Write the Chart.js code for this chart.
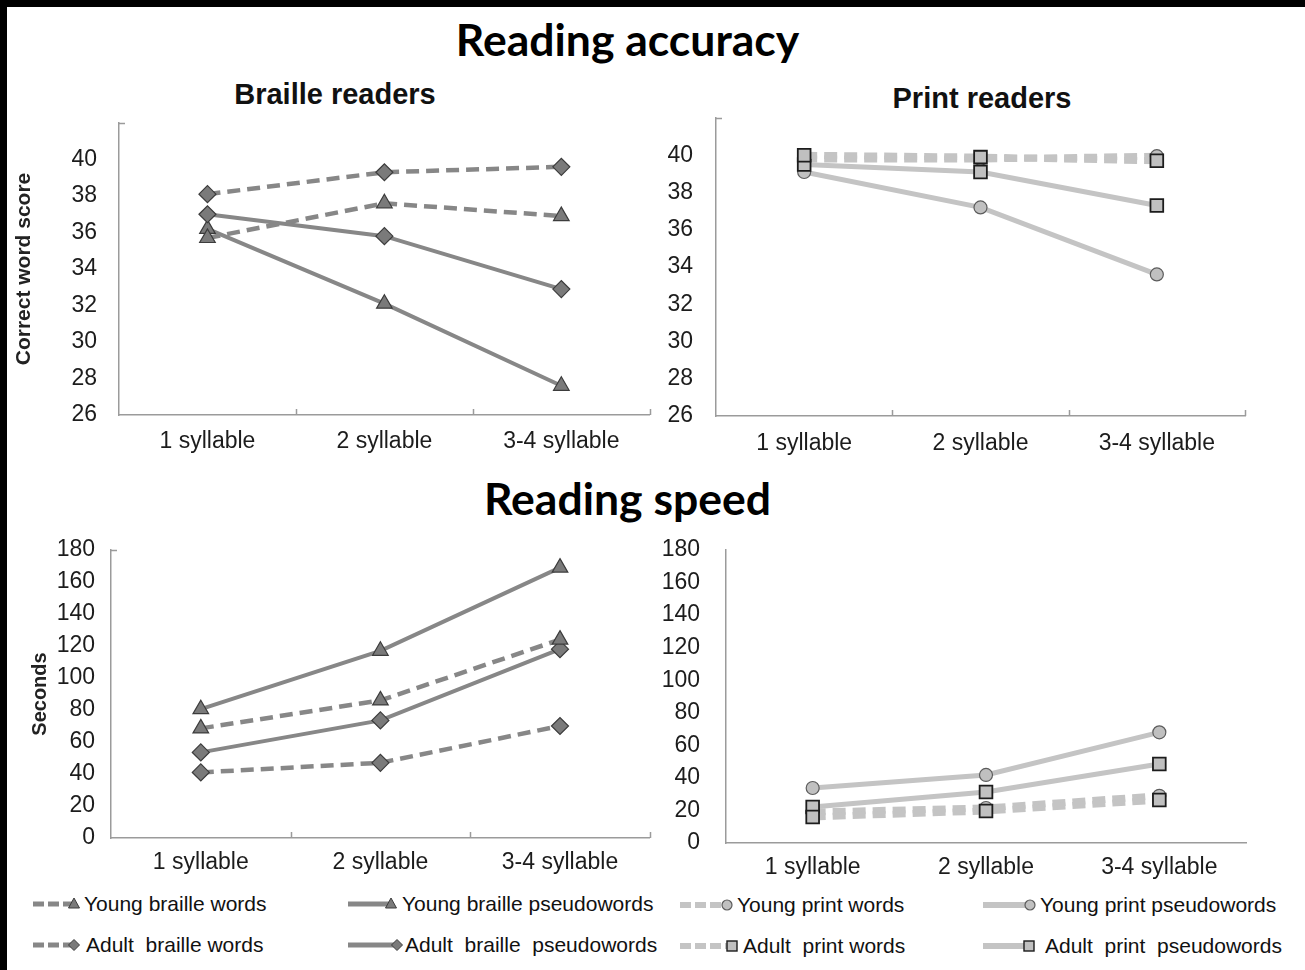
<!DOCTYPE html>
<html><head><meta charset="utf-8">
<script src="https://cdn.jsdelivr.net/npm/chart.js@4.4.1/dist/chart.umd.min.js"></script>
<style>
body{margin:0;background:#fff;}
#page{position:relative;width:1305px;height:970px;overflow:hidden;background:#fff;font-family:"Liberation Sans",Arial,sans-serif;}
.bar{position:absolute;background:#000}
.title{position:absolute;font-family:Lato,"Open Sans",sans-serif;font-weight:700;color:#000;text-align:center;white-space:nowrap;line-height:1}
.sub{position:absolute;font-family:"Liberation Sans",Arial,sans-serif;font-weight:700;color:#111;white-space:nowrap;text-align:center;line-height:1}
canvas{position:absolute}
.lg{position:absolute;height:24px;font-size:21px;color:#111;white-space:pre;line-height:24px}
.lg svg{position:absolute;top:0}
.lg span{position:absolute;top:0}
</style></head>
<body>
<div id="page">
  <div class="bar" style="left:0;top:0;width:1305px;height:7px"></div>
  <div class="bar" style="left:0;top:0;width:7px;height:970px"></div>
  <div class="title" style="left:0;width:1255px;top:17px;font-size:44.5px">Reading accuracy</div>
  <div class="title" style="left:0;width:1255px;top:476px;font-size:44.5px">Reading speed</div>
  <div class="sub" style="left:135px;width:400px;top:80px;font-size:29px">Braille readers</div>
  <div class="sub" style="left:782px;width:400px;top:84px;font-size:29px">Print readers</div>
  <canvas id="cTL" width="650" height="360" style="left:10px;top:110px;width:650px;height:360px"></canvas>
  <canvas id="cTR" width="645" height="365" style="left:660px;top:105px;width:645px;height:365px"></canvas>
  <canvas id="cBL" width="650" height="360" style="left:10px;top:530px;width:650px;height:360px"></canvas>
  <canvas id="cBR" width="645" height="360" style="left:660px;top:530px;width:645px;height:360px"></canvas>
  <div id="legend"></div>
</div>
<script>
// ---------- DATA ----------
const categories = ['1 syllable', '2 syllable', '3-4 syllable'];
const accuracyTicks = [26, 28, 30, 32, 34, 36, 38, 40];
const speedTicks = [0, 20, 40, 60, 80, 100, 120, 140, 160, 180];

// Reading accuracy (correct word score) - braille readers
const accYoungBrailleWords  = [35.7, 37.6, 36.9];
const accYoungBraillePseudo = [36.2, 32.1, 27.6];
const accAdultBrailleWords  = [38.1, 39.3, 39.6];
const accAdultBraillePseudo = [37.0, 35.8, 32.9];
// Reading accuracy - print readers
const accYoungPrintWords  = [39.8, 39.8, 39.95];
const accYoungPrintPseudo = [39.1, 37.2, 33.6];
const accAdultPrintWords  = [40.0, 39.9, 39.7];
const accAdultPrintPseudo = [39.5, 39.1, 37.3];
// Reading speed (seconds) - braille readers
const spdYoungBrailleWords  = [68.5, 86, 124];
const spdYoungBraillePseudo = [80.5, 117, 169];
const spdAdultBrailleWords  = [41, 47, 70];
const spdAdultBraillePseudo = [53.5, 73.5, 118];
// Reading speed - print readers
const spdYoungPrintWords  = [19, 21.5, 29];
const spdYoungPrintPseudo = [33.8, 41.8, 68];
const spdAdultPrintWords  = [16, 19.7, 26.4];
const spdAdultPrintPseudo = [22.1, 31.3, 48.5];

const nameYBW = 'Young braille words';
const nameYBP = 'Young braille pseudowords';
const nameABW = 'Adult  braille words';
const nameABP = 'Adult  braille  pseudowords';
const nameYPW = 'Young print words';
const nameYPP = 'Young print pseudowords';
const nameAPW = 'Adult  print words';
const nameAPP = 'Adult  print  pseudowords';

// ---------- STYLES ----------
const BR_LINE = '#878787', BR_FILL = '#7a7a7a', BR_EDGE = '#3c3c3c';
const PR_LINE = '#c4c4c4', PR_FILL = '#c0c0c0', PR_EDGE_SQ = '#1c1c1c', PR_EDGE_CI = '#5c5c5c';
const TXT = '#1c1c1c', AXIS = '#9b9b9b';

function style(kind) {
  const s = {};
  if (kind.print) {
    s.borderColor = PR_LINE;
    s.borderWidth = kind.dashed ? 7 : 5;
    s.borderDash = kind.dashed ? [13, 7] : [];
    s.pointBackgroundColor = PR_FILL;
    s.pointBorderColor = kind.shape === 'rect' ? PR_EDGE_SQ : PR_EDGE_CI;
    s.pointBorderWidth = kind.shape === 'rect' ? 1.8 : 1.2;
    s.pointRadius = kind.shape === 'rect' ? 9 : 6.5;
  } else {
    s.borderColor = BR_LINE;
    s.borderWidth = kind.dashed ? 4.5 : 4;
    s.borderDash = kind.dashed ? [13, 7] : [];
    s.pointBackgroundColor = BR_FILL;
    s.pointBorderColor = BR_EDGE;
    s.pointBorderWidth = 1.2;
    s.pointRadius = kind.shape === 'triangle' ? 9 : 8.5;
  }
  s.pointStyle = kind.shape;
  s.pointHoverRadius = s.pointRadius;
  s.tension = 0; s.fill = false; s.clip = false;
  return s;
}
const K = {
  YBW: {print:false, dashed:true,  shape:'triangle'},
  YBP: {print:false, dashed:false, shape:'triangle'},
  ABW: {print:false, dashed:true,  shape:'rectRot'},
  ABP: {print:false, dashed:false, shape:'rectRot'},
  YPW: {print:true,  dashed:true,  shape:'circle'},
  YPP: {print:true,  dashed:false, shape:'circle'},
  APW: {print:true,  dashed:true,  shape:'rect'},
  APP: {print:true,  dashed:false, shape:'rect'}
};
function ds(label, data, kind) { return Object.assign({label, data}, style(kind)); }

// inward category tick marks on x axis
const innerTicks = {
  id: 'innerTicks',
  afterDraw(chart, args, opts) {
    if (!opts || !opts.show) return;
    const x = chart.scales.x, ctx = chart.ctx, n = chart.data.labels.length;
    ctx.save(); ctx.strokeStyle = AXIS; ctx.lineWidth = 1.5;
    for (let i = 0; i < n; i++) {
      const px = i < n - 1 ? (x.getPixelForValue(i) + x.getPixelForValue(i + 1)) / 2 : x.right;
      ctx.beginPath(); ctx.moveTo(Math.round(px) + 0.5, x.top); ctx.lineTo(Math.round(px) + 0.5, x.top - 6); ctx.stroke();
    }
    const y = chart.scales.y;
    ctx.beginPath(); ctx.moveTo(y.right, y.top + 0.5); ctx.lineTo(y.right + 6, y.top + 0.5); ctx.stroke();
    ctx.restore();
  }
};

function makeChart(id, datasets, cfg) {
  const tickFont = {family: '"Liberation Sans", Arial, sans-serif', size: 23};
  return new Chart(document.getElementById(id), {
    type: 'line',
    data: {labels: categories, datasets},
    options: {
      responsive: false, animation: false, devicePixelRatio: 1,
      layout: {padding: {left: 0, top: cfg.padTop, right: cfg.padRight, bottom: 0}},
      plugins: {legend: {display: false}, tooltip: {enabled: false}, innerTicks: {show: cfg.innerTicks}},
      scales: {
        x: {
          type: 'category', offset: true,
          grid: {display: false, drawTicks: false},
          border: {display: true, color: AXIS, width: 1.5},
          ticks: {font: tickFont, color: TXT, padding: cfg.xPad, maxRotation: 0, autoSkip: false},
          afterFit(s) { s.height = cfg.xHeight; s.paddingLeft = 0; s.paddingRight = 0; }
        },
        y: {
          min: cfg.ticks[0], max: cfg.max,
          grid: {display: false, drawTicks: false},
          border: {display: true, color: AXIS, width: 1.5},
          ticks: {font: tickFont, color: TXT, padding: cfg.yPad, stepSize: cfg.ticks[1] - cfg.ticks[0],
                  callback: v => cfg.ticks.includes(v) ? String(v) : ''},
          title: cfg.yTitle ? {display: true, text: cfg.yTitle, color: '#222',
                  font: {family: '"Liberation Sans", Arial, sans-serif', size: cfg.yTitleSize, weight: 'bold'},
                  padding: {top: cfg.yTitlePad, bottom: 0}} : {display: false},
          afterFit(s) { s.width = cfg.yWidth; s.paddingTop = 0; s.paddingBottom = 0; }
        }
      }
    },
    plugins: [innerTicks]
  });
}

// Top-left: accuracy, braille
makeChart('cTL', [
  ds(nameABW, accAdultBrailleWords, K.ABW),
  ds(nameYBW, accYoungBrailleWords, K.YBW),
  ds(nameABP, accAdultBraillePseudo, K.ABP),
  ds(nameYBP, accYoungBraillePseudo, K.YBP)
], {ticks: accuracyTicks, max: 42, padTop: 13, padRight: 8, xHeight: 55, yWidth: 109, xPad: 13, yPad: 22,
    yTitle: 'Correct word score', yTitleSize: 21, yTitlePad: 2, innerTicks: true});

// Top-right: accuracy, print
makeChart('cTR', [
  ds(nameAPW, accAdultPrintWords, K.APW),
  ds(nameAPP, accAdultPrintPseudo, K.APP),
  ds(nameYPW, accYoungPrintWords, K.YPW),
  ds(nameYPP, accYoungPrintPseudo, K.YPP)
], {ticks: accuracyTicks, max: 42, padTop: 13, padRight: 60, xHeight: 54, yWidth: 56, xPad: 14, yPad: 23,
    yTitle: null, innerTicks: true});

// Bottom-left: speed, braille
makeChart('cBL', [
  ds(nameYBP, spdYoungBraillePseudo, K.YBP),
  ds(nameYBW, spdYoungBrailleWords, K.YBW),
  ds(nameABP, spdAdultBraillePseudo, K.ABP),
  ds(nameABW, spdAdultBrailleWords, K.ABW)
], {ticks: speedTicks, max: 180, padTop: 20, padRight: 9, xHeight: 52, yWidth: 101, xPad: 11, yPad: 16,
    yTitle: 'Seconds', yTitleSize: 20, yTitlePad: 18, innerTicks: true});

// Bottom-right: speed, print
makeChart('cBR', [
  ds(nameAPW, spdAdultPrintWords, K.APW),
  ds(nameAPP, spdAdultPrintPseudo, K.APP),
  ds(nameYPW, spdYoungPrintWords, K.YPW),
  ds(nameYPP, spdYoungPrintPseudo, K.YPP)
], {ticks: speedTicks, max: 180, padTop: 20, padRight: 59, xHeight: 47, yWidth: 66, xPad: 11, yPad: 26,
    yTitle: null, innerTicks: false});

// ---------- LEGEND ----------
const legendItems = [
  {name: nameYBW, kind: K.YBW, left: 33, top: 892, w: 46, text: 84},
  {name: nameABW, kind: K.ABW, left: 33, top: 933, w: 46, text: 86},
  {name: nameYBP, kind: K.YBP, left: 348, top: 892, w: 48, text: 402},
  {name: nameABP, kind: K.ABP, left: 348, top: 933, w: 54, text: 405},
  {name: nameYPW, kind: K.YPW, left: 680, top: 893, w: 52, text: 737},
  {name: nameAPW, kind: K.APW, left: 680, top: 934, w: 57, text: 743},
  {name: nameYPP, kind: K.YPP, left: 983, top: 893, w: 52, text: 1040},
  {name: nameAPP, kind: K.APP, left: 983, top: 934, w: 51, text: 1045}
];
const lg = document.getElementById('legend');
legendItems.forEach(it => {
  const st = style(it.kind);
  const d = document.createElement('div');
  d.className = 'lg';
  d.style.left = it.left + 'px'; d.style.top = it.top + 'px'; d.style.width = (it.text - it.left + 300) + 'px';
  const mx = it.w - 5, my = 12;
  const lw = it.kind.print ? 6 : 5;
  let line;
  if (it.kind.dashed) line = `<line x1="0" y1="${my}" x2="${mx}" y2="${my}" stroke="${st.borderColor}" stroke-width="${lw}" stroke-dasharray="11 4"/>`;
  else line = `<line x1="0" y1="${my}" x2="${mx}" y2="${my}" stroke="${st.borderColor}" stroke-width="${lw}"/>`;
  let mk = '';
  const f = st.pointBackgroundColor, e = st.pointBorderColor;
  if (it.kind.shape === 'triangle') mk = `<polygon points="${mx},${my-6} ${mx+5.5},${my+4} ${mx-5.5},${my+4}" fill="${f}" stroke="${e}" stroke-width="1"/>`;
  if (it.kind.shape === 'rectRot') mk = `<polygon points="${mx},${my-5.5} ${mx+5.5},${my} ${mx},${my+5.5} ${mx-5.5},${my}" fill="${f}" stroke="${e}" stroke-width="1"/>`;
  if (it.kind.shape === 'circle') mk = `<circle cx="${mx}" cy="${my}" r="5" fill="${f}" stroke="${e}" stroke-width="1.2"/>`;
  if (it.kind.shape === 'rect') mk = `<rect x="${mx-5}" y="${my-5}" width="10" height="10" fill="${f}" stroke="${e}" stroke-width="1.4"/>`;
  d.innerHTML = `<svg width="${it.w + 4}" height="24" style="left:0">${line}${mk}</svg><span style="left:${it.text - it.left}px">${it.name}</span>`;
  lg.appendChild(d);
});
</script>
</body></html>
